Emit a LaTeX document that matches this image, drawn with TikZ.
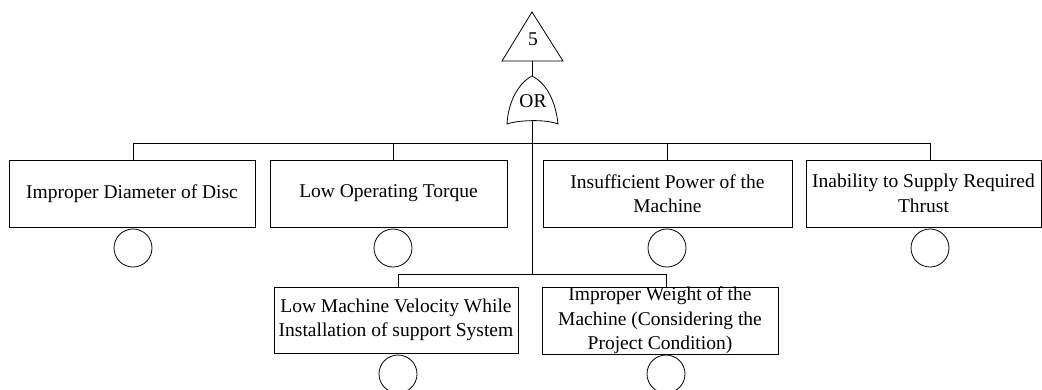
\documentclass[tikz,border=0pt]{standalone}
\usepackage{fontspec}
\setmainfont{Liberation Serif}
\begin{document}
\begin{tikzpicture}[x=1pt,y=-1pt,line width=0.8pt,
  evbox/.style={draw,align=center,inner sep=0pt,font=\fontsize{19.5}{24.5}\selectfont},
  basic/.style={draw,circle,minimum size=38pt,inner sep=0pt},
  lbl/.style={inner sep=0pt,font=\fontsize{19.5}{24}\selectfont}]
\useasboundingbox (0,0) rectangle (1042,389);
% top triangle
\coordinate (tA) at (532,12);
\coordinate (tL) at (502,61);
\coordinate (tR) at (563,61);
\coordinate (tB) at (532,61);
\draw (tA) -- (tL) -- (tR) -- cycle;
\node[lbl] (five) at (533,39) {5};
% OR gate
\coordinate (gT) at (532,76);
\coordinate (gL) at (507,124);
\coordinate (gR) at (558,124);
\coordinate (gB) at (532,121);
\draw (gT) .. controls (517,84) and (508,104) .. (gL)
      .. controls (518,120) and (546,119) .. (gR)
      .. controls (556,104) and (548,84) .. (gT);
\node[lbl] (or) at (533,101) {OR};
\draw (tB) -- (gT);
% bus levels
\coordinate (bus1) at (532,143);
\coordinate (bus2) at (532,274);
\draw (gB) -- (bus2);
% boxes
\node[evbox,minimum width=246pt,minimum height=67pt] (b1) at (132,193.5) {Improper Diameter of Disc};
\node[evbox,minimum width=237pt,minimum height=67pt] (b2) at (388.5,193.5) {Low Operating Torque};
\node[evbox,minimum width=249pt,minimum height=67pt] (b3) at (667.5,193.5) {Insufficient Power of the\\Machine};
\node[evbox,minimum width=235pt,minimum height=67pt] (b4) at (923.5,193.5) {Inability to Supply Required\\Thrust};
\node[evbox,minimum width=244pt,minimum height=66pt] (b5) at (396,320) {Low Machine Velocity While\\Installation of support System};
\node[evbox,minimum width=236pt,minimum height=67pt] (b6) at (660,320.5) {Improper Weight of the\\Machine (Considering the\\Project Condition)};
% basic events
\node[basic] (e1) at (133,248) {};
\node[basic] (e2) at (393,248) {};
\node[basic] (e3) at (667,248) {};
\node[basic] (e4) at (930,248) {};
\node[basic] (e5) at (398,374) {};
\node[basic] (e6) at (666,374) {};
% first bus
\draw (e1 |- bus1) -- (e4 |- bus1);
\draw (e1 |- bus1) -- (e1 |- b1.north);
\draw (e2 |- bus1) -- (e2 |- b2.north);
\draw (e3 |- bus1) -- (e3 |- b3.north);
\draw (e4 |- bus1) -- (e4 |- b4.north);
% second bus
\draw (e5 |- bus2) -- (e6 |- bus2);
\draw (e5 |- bus2) -- (e5 |- b5.north);
\draw (e6 |- bus2) -- (e6 |- b6.north);
\end{tikzpicture}
\end{document}
